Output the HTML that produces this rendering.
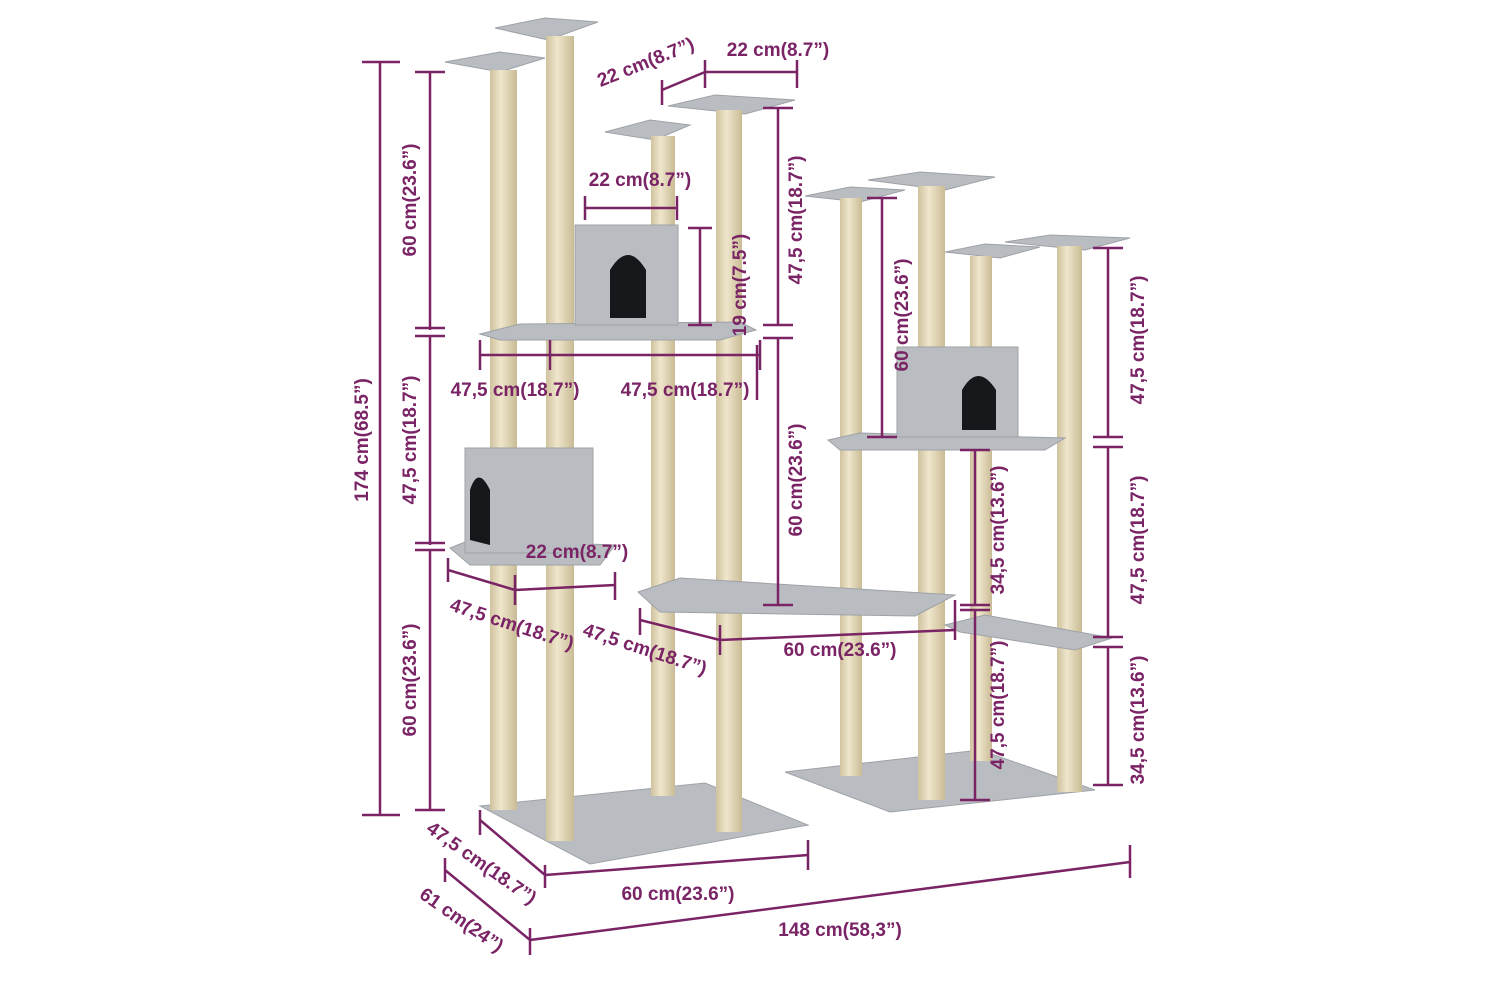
<!DOCTYPE html>
<html><head><meta charset="utf-8"><style>
html,body{margin:0;padding:0;background:#fff;}
svg{display:block}
text{font-family:"Liberation Sans",sans-serif;font-weight:bold;font-size:19px;fill:#7a2466}
</style></head><body>
<svg width="1500" height="1000" viewBox="0 0 1500 1000" xmlns="http://www.w3.org/2000/svg">
<defs>
<linearGradient id="post" x1="0" x2="1" y1="0" y2="0">
<stop offset="0" stop-color="#cfc29e"/><stop offset="0.4" stop-color="#efe6cc"/><stop offset="1" stop-color="#c9bb95"/>
</linearGradient>
</defs>
<g fill="#b9bdc1" stroke="#9ea2a6" stroke-width="1">
<!-- left base -->
<polygon points="480,806 705,783 808,825 590,864"/>
<!-- right base -->
<polygon points="785,772 980,750 1095,790 890,812"/>
<!-- top platforms left -->
<polygon points="445,62 500,52 545,58 500,72"/>
<polygon points="495,28 545,18 598,22 548,40"/>
<polygon points="605,132 650,120 690,125 655,140"/>
<polygon points="668,106 715,95 795,100 745,114"/>
<!-- right top platforms -->
<polygon points="805,196 850,187 905,190 860,202"/>
<polygon points="868,180 920,172 995,177 945,190"/>
<polygon points="945,252 985,244 1040,247 1000,258"/>
<polygon points="1005,242 1050,235 1130,238 1085,250"/>
</g>
<!-- posts -->
<g fill="url(#post)">
<rect x="490" y="70" width="27" height="740"/>
<rect x="546" y="36" width="28" height="805"/>
<rect x="651" y="136" width="24" height="660"/>
<rect x="716" y="110" width="26" height="722"/>
<rect x="840" y="198" width="22" height="578"/>
<rect x="918" y="186" width="27" height="614"/>
<rect x="970" y="256" width="22" height="505"/>
<rect x="1057" y="246" width="25" height="546"/>
</g>
<g fill="#b9bdc1" stroke="#9ea2a6" stroke-width="1">
<!-- mid left platform -->
<polygon points="480,334 520,324 740,322 756,330 720,340 500,340"/>
<!-- cube top -->
<rect x="575" y="225" width="103" height="100"/>
<!-- lower left platform -->
<polygon points="450,548 470,540 615,545 600,565 470,565"/>
<rect x="465" y="448" width="128" height="105"/>
<!-- center platform -->
<polygon points="638,592 680,578 955,595 915,616 660,612"/>
<!-- right mid platform -->
<polygon points="828,440 860,433 1065,438 1045,450 840,450"/>
<rect x="897" y="347" width="121" height="90"/>
<!-- right small platform -->
<polygon points="945,625 985,615 1112,638 1075,650 960,632"/>
</g>
<!-- openings -->
<g fill="#15171a">
<path d="M610,318 L610,270 Q628,240 646,270 L646,318 Z"/>
<path d="M470,540 L470,490 Q478,465 490,490 L490,545 Z"/>
<path d="M962,430 L962,390 Q978,362 996,390 L996,430 Z"/>
</g>
<!-- dimension lines -->
<g stroke="#7a2466" stroke-width="2.5" fill="none">
<path d="M380,62V815 M362,62H400 M362,815H400"/>
<path d="M430,72V330 M415,72H445 M415,328H445 M415,336H445 M430,336V545 M415,543H445 M415,550H445 M430,550V810 M415,810H445"/>
<path d="M778,108V325 M763,108H793 M763,325H793 M778,338V605 M763,338H793 M763,605H793"/>
<path d="M700,228V325 M688,228H712 M688,325H712"/>
<path d="M882,198V437 M867,198H897 M867,437H897"/>
<path d="M1108,248V437 M1093,248H1123 M1093,437H1123 M1093,447H1123 M1108,447V637 M1093,637H1123 M1093,647H1123 M1108,647V785 M1093,785H1123"/>
<path d="M975,450V605 M960,450H990 M960,605H990 M975,610V800 M960,610H990 M960,800H990"/>
<path d="M662,90L705,72 M662,80V105 M705,60V88 M705,72H797 M797,60V88"/>
<path d="M585,208H677 M585,196V220 M677,196V220"/>
<path d="M480,355H760 M480,340V370 M550,340V370 M760,340V370 M757,345V400"/>
<path d="M448,570L515,590L615,585 M448,558V582 M515,575V605 M615,572V600"/>
<path d="M640,620L720,640L955,630 M640,608V635 M720,625V655 M955,600V640"/>
<path d="M480,820L545,875 M480,810V835 M545,865V888 M545,875L808,855 M808,840V870"/>
<path d="M445,870L530,940 M445,858V882 M530,928V955 M530,940L1130,862 M1130,845V878"/>
</g>
<!-- labels -->
<text transform="translate(368,440) rotate(-90)" text-anchor="middle">174 cm(68.5”)</text>
<text transform="translate(416,200) rotate(-90)" text-anchor="middle">60 cm(23.6”)</text>
<text transform="translate(416,440) rotate(-90)" text-anchor="middle">47,5 cm(18.7”)</text>
<text transform="translate(416,680) rotate(-90)" text-anchor="middle">60 cm(23.6”)</text>
<text transform="translate(802,220) rotate(-90)" text-anchor="middle">47,5 cm(18.7”)</text>
<text transform="translate(802,480) rotate(-90)" text-anchor="middle">60 cm(23.6”)</text>
<text transform="translate(746,285) rotate(-90)" text-anchor="middle">19 cm(7.5”)</text>
<text transform="translate(908,315) rotate(-90)" text-anchor="middle">60 cm(23.6”)</text>
<text transform="translate(1144,340) rotate(-90)" text-anchor="middle">47,5 cm(18.7”)</text>
<text transform="translate(1144,540) rotate(-90)" text-anchor="middle">47,5 cm(18.7”)</text>
<text transform="translate(1144,720) rotate(-90)" text-anchor="middle">34,5 cm(13.6”)</text>
<text transform="translate(1004,530) rotate(-90)" text-anchor="middle">34,5 cm(13.6”)</text>
<text transform="translate(1004,705) rotate(-90)" text-anchor="middle">47,5 cm(18.7”)</text>
<text transform="translate(648,68) rotate(-22)" text-anchor="middle">22 cm(8.7”)</text>
<text x="778" y="56" text-anchor="middle">22 cm(8.7”)</text>
<text x="640" y="186" text-anchor="middle">22 cm(8.7”)</text>
<text x="515" y="396" text-anchor="middle">47,5 cm(18.7”)</text>
<text x="685" y="396" text-anchor="middle">47,5 cm(18.7”)</text>
<text x="577" y="558" text-anchor="middle">22 cm(8.7”)</text>
<text transform="translate(510,630) rotate(18)" text-anchor="middle">47,5 cm(18.7”)</text>
<text transform="translate(643,655) rotate(18)" text-anchor="middle">47,5 cm(18.7”)</text>
<text x="840" y="656" text-anchor="middle">60 cm(23.6”)</text>
<text transform="translate(478,868) rotate(35)" text-anchor="middle">47,5 cm(18.7”)</text>
<text x="678" y="900" text-anchor="middle">60 cm(23.6”)</text>
<text transform="translate(458,925) rotate(35)" text-anchor="middle">61 cm(24”)</text>
<text x="840" y="936" text-anchor="middle">148 cm(58,3”)</text>
</svg>
</body></html>
